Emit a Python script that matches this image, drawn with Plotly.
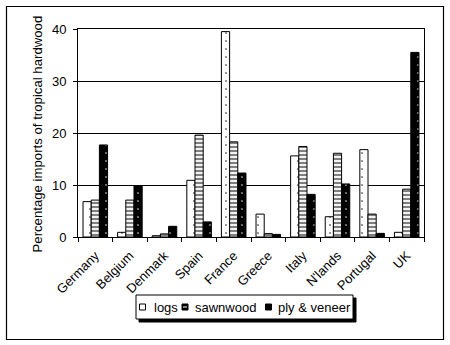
import plotly.graph_objects as go

# Share of EU tropical hardwood imports by product, per country (%)
countries = ["Germany", "Belgium", "Denmark", "Spain", "France",
             "Greece", "Italy", "N'lands", "Portugal", "UK"]
logs = [6.8, 0.9, 0.25, 10.9, 39.5, 4.4, 15.6, 3.9, 16.8, 0.9]
sawnwood = [7.1, 7.1, 0.6, 19.6, 18.3, 0.65, 17.4, 16.1, 4.4, 9.2]
ply_veneer = [17.7, 9.9, 2.06, 2.9, 12.3, 0.5, 8.2, 10.2, 0.7, 35.5]

y_ticks = [0, 10, 20, 30, 40]
series_names = ["logs", "sawnwood", "ply & veneer"]

FONT = "Arial, Liberation Sans, sans-serif"

# plot-area geometry in pixels (450 x 345 canvas)
W_FIG, H_FIG = 450, 345
L, R, T, B = 78, 424, 29, 237
PW, PH = R - L, B - T


def px(x):
    return (x - L) / PW


def py(y):
    return (B - y) / PH


fig = go.Figure()

fig.add_bar(
    x=countries, y=logs, name=series_names[0], showlegend=False,
    marker=dict(color="white", line=dict(color="black", width=1),
                pattern=dict(shape=".", size=8, solidity=0.06,
                             fgcolor="black", bgcolor="white")),
)
fig.add_bar(
    x=countries, y=sawnwood, name=series_names[1], showlegend=False,
    marker=dict(color="white", line=dict(color="black", width=1),
                pattern=dict(shape="-", size=4, solidity=0.55,
                             fgcolor="black", bgcolor="white")),
)
fig.add_bar(
    x=countries, y=ply_veneer, name=series_names[2], showlegend=False,
    marker=dict(color="black", line=dict(color="black", width=1),
                pattern=dict(shape=".", size=8, solidity=0.06,
                             fgcolor="white", bgcolor="black")),
)

shapes = []
annotations = []

# outer frame around the whole chart
shapes.append(dict(type="rect", xref="paper", yref="paper",
                   x0=px(6.5), x1=px(443.5), y0=py(339.5), y1=py(6.5),
                   line=dict(color="black", width=1.2), layer="below"))

# legend box with drop shadow
lx0, lx1, ly0, ly1 = 136, 353, 295, 319
shapes.append(dict(type="rect", xref="paper", yref="paper",
                   x0=px(lx0 + 3), x1=px(lx1 + 3), y0=py(ly1 + 3), y1=py(ly0 + 3),
                   line=dict(color="black", width=1), fillcolor="black"))
shapes.append(dict(type="rect", xref="paper", yref="paper",
                   x0=px(lx0), x1=px(lx1), y0=py(ly1), y1=py(ly0),
                   line=dict(color="black", width=1), fillcolor="white"))

cy = 307
legend_items = [
    (series_names[0], 139.5, 152, "white"),
    (series_names[1], 182, 193, "black"),
    (series_names[2], 265.5, 276, "black"),
]
for i, (label, sx, tx, fill) in enumerate(legend_items):
    shapes.append(dict(type="rect", xref="paper", yref="paper",
                       x0=px(sx), x1=px(sx + 6), y0=py(cy + 3), y1=py(cy - 3),
                       line=dict(color="black", width=1), fillcolor=fill))
    if i == 1:
        shapes.append(dict(type="line", xref="paper", yref="paper",
                           x0=px(sx + 1), x1=px(sx + 5), y0=py(cy), y1=py(cy),
                           line=dict(color="white", width=1)))
    annotations.append(dict(text=label, xref="paper", yref="paper",
                            x=px(tx), y=py(cy), xanchor="left", yanchor="middle",
                            showarrow=False,
                            font=dict(family=FONT, size=13, color="black")))

# y-axis title
annotations.append(dict(text="Percentage imports of tropical hardwood",
                        xref="paper", yref="paper", x=px(36.5), y=py(134),
                        xanchor="center", yanchor="middle", textangle=-90,
                        showarrow=False,
                        font=dict(family=FONT, size=13.2, color="black")))

fig.update_layout(
    width=W_FIG, height=H_FIG,
    margin=dict(l=L, r=W_FIG - R, t=T, b=H_FIG - B, pad=0),
    paper_bgcolor="white", plot_bgcolor="white",
    barmode="group", bargap=0.29, bargroupgap=0,
    font=dict(family=FONT, size=13, color="black"),
    shapes=shapes, annotations=annotations,
    showlegend=False,
)
fig.update_xaxes(
    type="category", showline=True, linecolor="black", linewidth=1, mirror=True,
    ticks="outside", tickson="boundaries", ticklen=4, tickcolor="black",
    tickangle=-45, showgrid=False, ticklabelstandoff=5,
    tickfont=dict(family=FONT, size=13, color="black"),
)
fig.update_yaxes(
    range=[0, 40], tickvals=y_ticks, ticktext=[str(v) for v in y_ticks],
    showline=True, linecolor="black", linewidth=1, mirror=True,
    ticks="outside", ticklen=4, tickcolor="black",
    showgrid=True, gridcolor="black", gridwidth=1, zeroline=False,
    ticklabelstandoff=4,
    tickfont=dict(family=FONT, size=13, color="black"),
)

fig.write_html("out.html")
